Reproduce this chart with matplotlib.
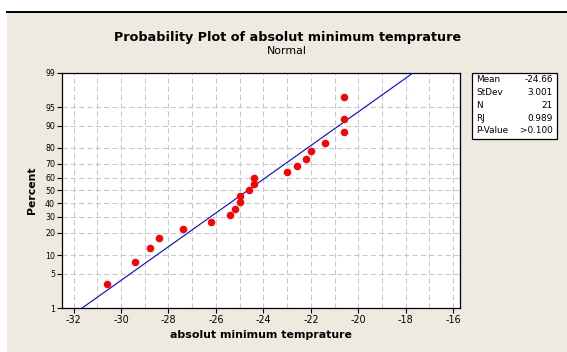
import numpy as np
import matplotlib
matplotlib.use("Agg")
import matplotlib.pyplot as plt
from matplotlib.patches import Rectangle
from matplotlib.lines import Line2D
from matplotlib.ticker import MultipleLocator, NullLocator
from statistics import NormalDist

# absolute minimum temperature
temps = [-30.6, -29.4, -28.8, -28.4, -27.4, -26.2, -25.4, -25.2, -25.0, -25.0,
         -24.6, -24.4, -24.4, -23.0, -22.6, -22.2, -22.0, -21.4, -20.6, -20.6, -20.6]
pct_ticks = [1, 5, 10, 20, 30, 40, 50, 60, 70, 80, 90, 95, 99]
x_ticks = list(range(-32, -15, 2))
stat_names = ["Mean", "StDev", "N", "RJ", "P-Value"]
stat_values = ["-24.66", "3.001", "21", "0.989", ">0.100"]

nd = NormalDist()

def fwd(p):
    p = np.clip(np.asarray(p, dtype=float) / 100.0, 1e-9, 1 - 1e-9)
    return np.vectorize(nd.inv_cdf, otypes=[float])(p)

def inv(z):
    return np.vectorize(nd.cdf, otypes=[float])(np.asarray(z, dtype=float)) * 100.0

x = np.sort(np.array(temps))
n = len(x)
pp = (np.arange(1, n + 1) - 0.3) / (n + 0.4) * 100
mu = x.mean()
sd = x.std(ddof=1)

bg = "#EEEAE0"
W, H = 567, 352
fig = plt.figure(figsize=(W / 100, H / 100), dpi=100)
fig.patch.set_facecolor("white")
fig.patches.append(Rectangle((7 / W, 0), 1, 1 - 11 / H, transform=fig.transFigure,
                             facecolor=bg, edgecolor="none", zorder=-10))
fig.lines.append(Line2D([7 / W, 1], [1 - 11.5 / H, 1 - 11.5 / H], transform=fig.transFigure,
                        color="black", lw=1.4))

ax = fig.add_axes([62 / W, 1 - 308 / H, (459.5 - 62) / W, (308 - 72.7) / H])
ax.set_facecolor("white")
ax.set_yscale("function", functions=(fwd, inv))
ax.set_ylim(1, 99)
ax.set_xlim(-32.49, -15.73)

ax.set_xticks(x_ticks)
ax.set_xticklabels([str(t) for t in x_ticks])
ax.xaxis.set_minor_locator(MultipleLocator(1))
ax.set_yticks(pct_ticks)
ax.set_yticklabels([str(t) for t in pct_ticks])
ax.yaxis.set_minor_locator(NullLocator())

ax.grid(True, which="both", axis="x", color="#C8C8C8", lw=0.75, ls=(0, (5, 3)))
ax.grid(True, which="major", axis="y", color="#C8C8C8", lw=0.75, ls=(0, (5, 3)))
ax.set_axisbelow(True)

ax.tick_params(which="major", direction="out", length=3.5, width=0.8, color="black")
ax.tick_params(which="minor", length=0)
ax.tick_params(axis="x", labelsize=6.9, pad=1.5)
ax.tick_params(axis="y", labelsize=5.7, pad=1.5)
for s in ax.spines.values():
    s.set_linewidth(0.9)

# fitted normal line
pl = np.array([0.5, 99.5])
ax.plot(mu + sd * fwd(pl), pl, color="#0000FF", lw=0.8, zorder=3)
ax.plot(x, pp, "o", color="#FF0000", ms=4.4, mec="#FF0000", zorder=4)

ax.set_xlabel("absolut minimum temprature", fontsize=7.9, fontweight="bold", labelpad=4)
ax.set_ylabel("Percent", fontsize=7.8, fontweight="bold", labelpad=6)

fig.text(288 / W, 1 - 37 / H, "Probability Plot of absolut minimum temprature",
         ha="center", va="center", fontsize=9.2, fontweight="bold")
fig.text(287 / W, 1 - 51 / H, "Normal", ha="center", va="center", fontsize=7.9)

# statistics box
fig.patches.append(Rectangle((472 / W, 1 - 139 / H), (557 - 472) / W, (139 - 73) / H,
                             transform=fig.transFigure, facecolor="white",
                             edgecolor="black", lw=0.9))
for i, (nm, vl) in enumerate(zip(stat_names, stat_values)):
    yy = 1 - (80 + i * 12.75) / H
    fig.text(476 / W, yy, nm, ha="left", va="center", fontsize=6.4)
    fig.text(553 / W, yy, vl, ha="right", va="center", fontsize=6.4)

fig.savefig("out.png", dpi=100, facecolor=fig.get_facecolor())
